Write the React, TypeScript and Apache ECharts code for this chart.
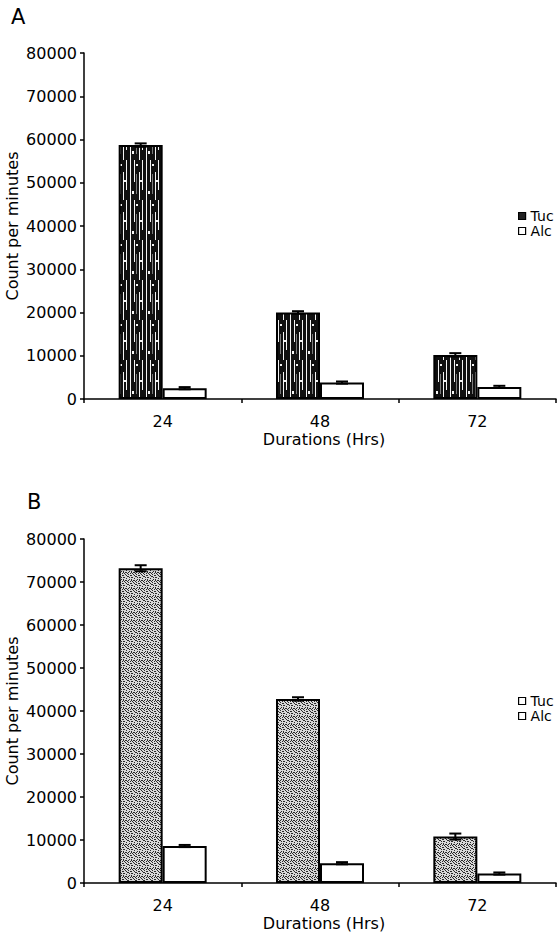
import React, { useEffect, useRef } from "react";
import * as echarts from "echarts";

// Incubation durations (hours) on the x axis
const durations = ["24", "48", "72"];
const seriesNames = ["Tuc", "Alc"];

// Panel A: counts per minute and their error margins
const tucA = [58700, 20000, 10200];
const alcA = [2500, 3800, 2800];
const tucErrA = [400, 300, 400];
const alcErrA = [250, 250, 250];

// Panel B: counts per minute and their error margins
const tucB = [73200, 42800, 10800];
const alcB = [8600, 4600, 2200];
const tucErrB = [700, 400, 700];
const alcErrB = [250, 250, 250];

// y axis range
const yMin = 0;
const yMax = 80000;
const yStep = 10000;

const FONT = "DejaVu Sans";
const BAR_W = 44;

// dark streaky fill used for the Tuc bars of panel A
function streakTile(): HTMLCanvasElement {
  const c = document.createElement("canvas");
  c.width = 16;
  c.height = 40;
  const ctx = c.getContext("2d")!;
  ctx.fillStyle = "#101010";
  ctx.fillRect(0, 0, 16, 40);
  ctx.fillStyle = "#f4f4f4";
  ctx.fillRect(2, 0, 1, 40);
  ctx.fillRect(6, 0, 1, 22);
  ctx.fillRect(11, 12, 1, 28);
  ctx.fillRect(14, 0, 1, 30);
  ctx.fillRect(4, 31, 2, 3);
  ctx.fillRect(8, 4, 2, 2);
  ctx.fillRect(12, 20, 2, 2);
  ctx.fillStyle = "#7a7a7a";
  ctx.fillRect(8, 14, 1, 20);
  return c;
}

// grey stippled fill used for the Tuc bars of panel B
function stippleTile(): HTMLCanvasElement {
  const c = document.createElement("canvas");
  c.width = 8;
  c.height = 8;
  const ctx = c.getContext("2d")!;
  ctx.fillStyle = "#d8d8d8";
  ctx.fillRect(0, 0, 8, 8);
  const dots = [
    [0, 0], [2, 1], [5, 0], [7, 2], [1, 3], [4, 3], [6, 4], [3, 5],
    [0, 6], [5, 6], [2, 7], [7, 7], [3, 1], [6, 1], [1, 5], [4, 7],
    [3, 3], [3, 6], [6, 6], [0, 2],
  ];
  ctx.fillStyle = "#2a2a2a";
  for (const [x, y] of dots) ctx.fillRect(x, y, 1, 1);
  return c;
}

function errorSeries(values: number[], errs: number[], offset: number) {
  return {
    type: "custom",
    name: "error",
    silent: true,
    z: 10,
    data: values.map((v, i) => [i, v + errs[i], v - errs[i]]),
    encode: { x: 0, y: [1, 2] },
    renderItem: (_params: any, api: any) => {
      const i = api.value(0);
      const hi = api.coord([i, api.value(1)]);
      const lo = api.coord([i, api.value(2)]);
      const x = hi[0] + offset;
      const half = 6;
      const st = { stroke: "#000", lineWidth: 2 };
      return {
        type: "group",
        children: [
          { type: "line", shape: { x1: x, y1: hi[1], x2: x, y2: lo[1] }, style: st },
          { type: "line", shape: { x1: x - half, y1: hi[1], x2: x + half, y2: hi[1] }, style: st },
          { type: "line", shape: { x1: x - half, y1: lo[1], x2: x + half, y2: lo[1] }, style: st },
        ],
      };
    },
  };
}

function panelOption(p: {
  letter: string;
  letterX: number;
  letterY: number;
  gridTop: number;
  gridHeight: number;
  legendTop: number;
  tuc: number[];
  alc: number[];
  tucErr: number[];
  alcErr: number[];
  tucFill: any;
  tucIcon: any;
}) {
  const black = "#000";
  return {
    animation: false,
    backgroundColor: "#fff",
    textStyle: { fontFamily: FONT, color: black },
    graphic: [
      {
        type: "text",
        left: p.letterX,
        top: p.letterY,
        style: { text: p.letter, font: `21px "${FONT}"`, fill: black },
      },
    ],
    legend: {
      orient: "vertical",
      left: 513,
      top: p.legendTop,
      icon: "rect",
      itemWidth: 7,
      itemHeight: 7,
      itemGap: 1,
      textStyle: { fontFamily: FONT, fontSize: 14, color: black },
      data: [
        { name: seriesNames[0], itemStyle: p.tucIcon },
        {
          name: seriesNames[1],
          itemStyle: { color: "#fff", borderColor: black, borderWidth: 1.2 },
        },
      ],
    },
    grid: {
      left: 84,
      top: p.gridTop,
      width: 472,
      height: p.gridHeight,
      containLabel: false,
      outerBoundsMode: "none",
    },
    xAxis: {
      type: "category",
      data: durations,
      axisLine: { lineStyle: { color: black, width: 1.5 } },
      axisTick: { show: true, length: 4, lineStyle: { color: black, width: 1.5 } },
      axisLabel: { fontFamily: FONT, fontSize: 16, color: black, margin: 14 },
      name: "Durations (Hrs)",
      nameLocation: "middle",
      nameGap: 32,
      nameMoveOverlap: false,
      nameTextStyle: {
        fontFamily: FONT,
        fontSize: 16,
        color: black,
        padding: [0, 0, 0, 8],
      },
    },
    yAxis: {
      type: "value",
      min: yMin,
      max: yMax,
      interval: yStep,
      splitLine: { show: false },
      axisLine: { show: true, lineStyle: { color: black, width: 1.5 } },
      axisTick: { show: true, length: 4, lineStyle: { color: black, width: 1.5 } },
      axisLabel: {
        fontFamily: FONT,
        fontSize: 16,
        color: black,
        margin: 7,
        formatter: (v: number) => String(v),
      },
      name: "Count per minutes",
      nameLocation: "middle",
      nameGap: 64,
      nameMoveOverlap: false,
      nameTextStyle: { fontFamily: FONT, fontSize: 16, color: black },
    },
    series: [
      {
        name: seriesNames[0],
        type: "bar",
        data: p.tuc,
        barWidth: BAR_W,
        barGap: "0%",
        itemStyle: { color: p.tucFill, borderColor: black, borderWidth: 2 },
      },
      {
        name: seriesNames[1],
        type: "bar",
        data: p.alc,
        barWidth: BAR_W,
        barGap: "0%",
        itemStyle: { color: "#fff", borderColor: black, borderWidth: 2 },
      },
      errorSeries(p.tuc, p.tucErr, -BAR_W / 2),
      errorSeries(p.alc, p.alcErr, BAR_W / 2),
    ],
  };
}

export default function App() {
  const refA = useRef<HTMLDivElement>(null);
  const refB = useRef<HTMLDivElement>(null);

  useEffect(() => {
    if (!refA.current || !refB.current) return;
    const chartA = echarts.init(refA.current, undefined, { renderer: "svg" });
    const chartB = echarts.init(refB.current, undefined, { renderer: "svg" });

    chartA.setOption(
      panelOption({
        letter: "A",
        letterX: 11,
        letterY: 6,
        gridTop: 53,
        gridHeight: 346,
        legendTop: 204,
        tuc: tucA,
        alc: alcA,
        tucErr: tucErrA,
        alcErr: alcErrA,
        tucFill: { image: streakTile(), repeat: "repeat" },
        tucIcon: { color: "#222", borderColor: "#000", borderWidth: 1.2 },
      }) as any
    );

    chartB.setOption(
      panelOption({
        letter: "B",
        letterX: 27,
        letterY: 21,
        gridTop: 69,
        gridHeight: 344,
        legendTop: 219,
        tuc: tucB,
        alc: alcB,
        tucErr: tucErrB,
        alcErr: alcErrB,
        tucFill: { image: stippleTile(), repeat: "repeat" },
        tucIcon: { color: "#fff", borderColor: "#000", borderWidth: 1.2 },
      }) as any
    );

    return () => {
      chartA.dispose();
      chartB.dispose();
    };
  }, []);

  return (
    <div style={{ position: "absolute", left: 0, top: 0, width: 559, height: 941, background: "#fff" }}>
      <div ref={refA} style={{ position: "absolute", left: 0, top: 0, width: 559, height: 470 }} />
      <div ref={refB} style={{ position: "absolute", left: 0, top: 470, width: 559, height: 471 }} />
    </div>
  );
}
